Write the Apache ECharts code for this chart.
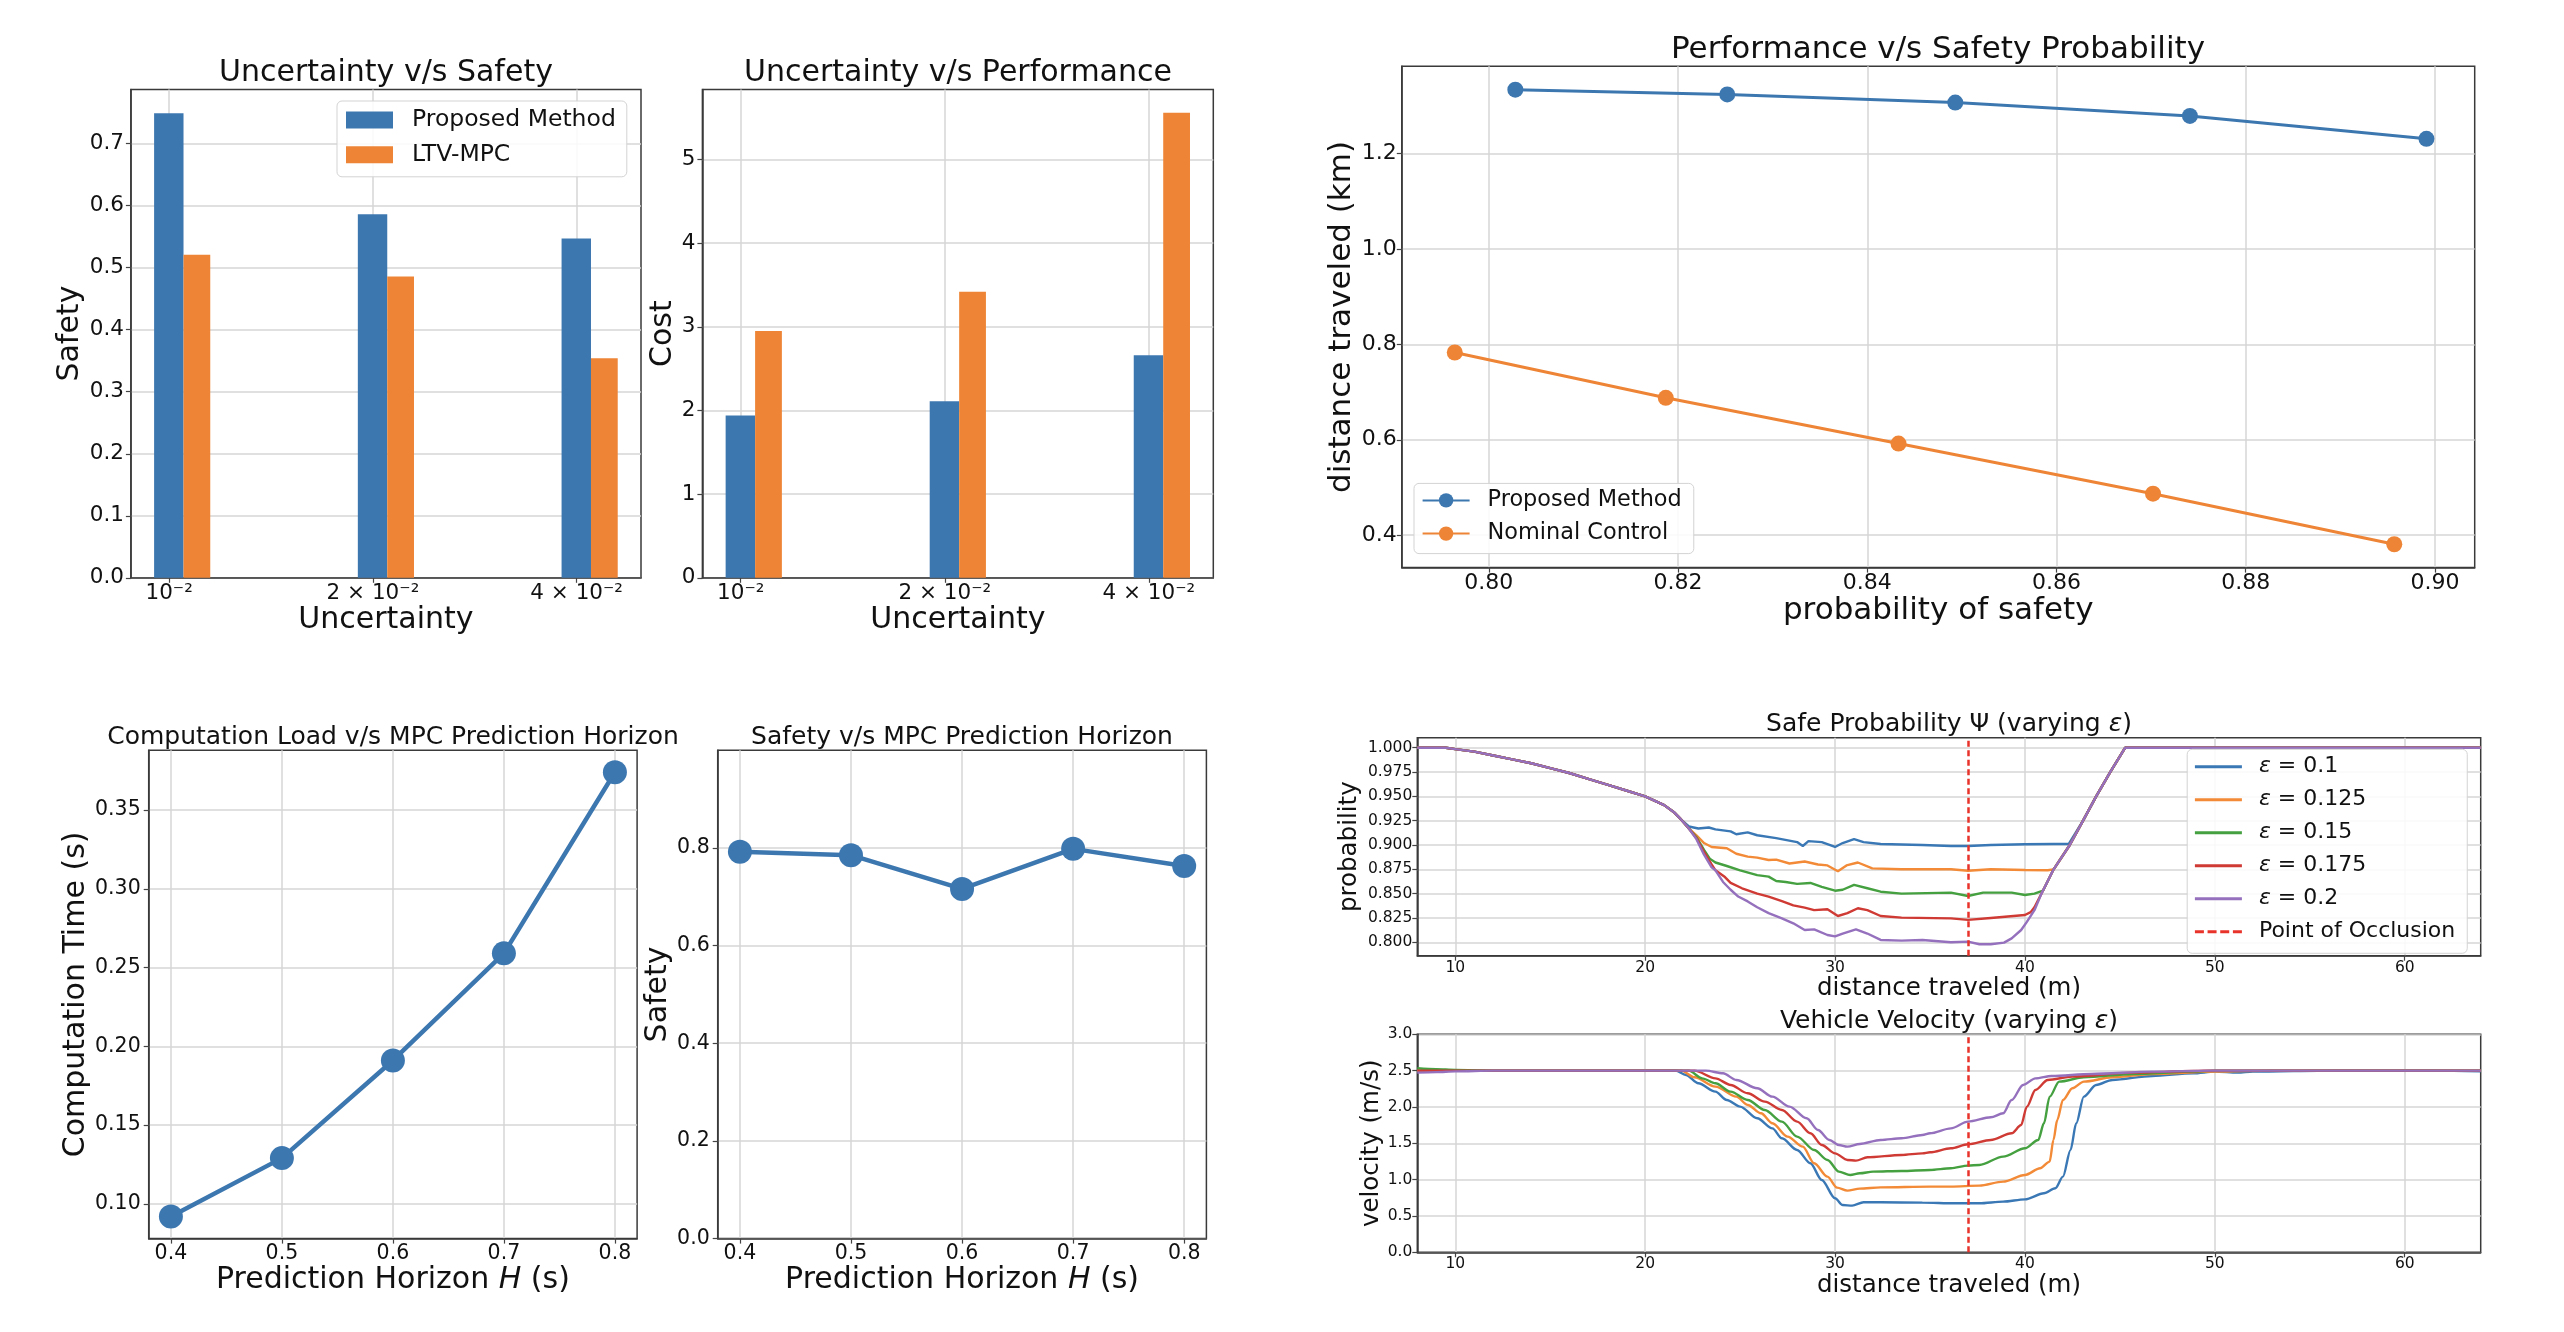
<!DOCTYPE html>
<html>
<head>
<meta charset="utf-8">
<script src="https://cdn.jsdelivr.net/npm/echarts@6/dist/echarts.min.js"></script>
<style>
html,body{margin:0;padding:0;background:#fff;}
#c{width:2564px;height:1332px;}
</style>
</head>
<body>
<div id="c"></div>
<script>
// ---------------- DATA ----------------
const uncertainty = [0.01, 0.02, 0.04];
const safetyProposed = [0.749, 0.586, 0.547];
const safetyLtv = [0.521, 0.486, 0.354];
const costProposed = [1.94, 2.11, 2.66];
const costLtv = [2.95, 3.42, 5.56];

const probSafetyProposed = [0.8028, 0.8252, 0.8493, 0.8741, 0.8991];
const distProposed = [1.334, 1.324, 1.307, 1.279, 1.231];
const probSafetyNominal = [0.7964, 0.8187, 0.8433, 0.8702, 0.8957];
const distNominal = [0.783, 0.688, 0.592, 0.487, 0.381];

const horizon = [0.4, 0.5, 0.6, 0.7, 0.8];
const computationTime = [0.092, 0.129, 0.191, 0.259, 0.374];
const safetyHorizon = [0.792, 0.785, 0.716, 0.798, 0.763];

const occlusionX = 37;
const epsNames = ['ε = 0.1', 'ε = 0.125', 'ε = 0.15', 'ε = 0.175', 'ε = 0.2'];

const probEps010 = [[8,1.0],[9.5,1.0],[10,0.9985],[11,0.996],[12,0.992],[13,0.988],[14,0.984],[15,0.979],[16,0.974],[17,0.968],[18,0.962],[19,0.956],[20,0.950],[21,0.941],[21.5,0.934],[21.9,0.926],[22.3,0.919],[22.8,0.917],[23.35,0.918],[23.7,0.916],[24.5,0.914],[24.8,0.911],[25.4,0.913],[25.9,0.910],[26.9,0.907],[28.0,0.903],[28.3,0.899],[28.6,0.904],[29.3,0.903],[30.0,0.898],[30.4,0.902],[31.0,0.906],[31.5,0.903],[32.4,0.901],[34.6,0.900],[36.1,0.899],[37,0.899],[38.2,0.900],[40,0.9007],[41.5,0.901],[42.3,0.901],[43.06,0.925],[43.75,0.950],[44.49,0.975],[45.28,1.0],[64,1.0]];
const probEps0125 = [[8,1.0],[9.5,1.0],[10,0.9985],[11,0.996],[12,0.992],[13,0.988],[14,0.984],[15,0.979],[16,0.974],[17,0.968],[18,0.962],[19,0.956],[20,0.950],[21,0.941],[21.5,0.934],[21.9,0.926],[22.3,0.917],[22.7,0.910],[23.1,0.902],[23.5,0.898],[24.3,0.8966],[24.8,0.891],[25.4,0.888],[25.9,0.887],[26.5,0.8846],[26.9,0.885],[27.6,0.881],[28.4,0.883],[29.1,0.880],[29.6,0.879],[30.15,0.873],[30.6,0.879],[31.2,0.882],[31.96,0.876],[33.5,0.875],[36.1,0.875],[37,0.8736],[38.2,0.875],[40,0.8743],[41.2,0.874],[41.51,0.875],[42.36,0.900],[43.06,0.925],[43.75,0.950],[44.49,0.975],[45.28,1.0],[64,1.0]];
const probEps015 = [[8,1.0],[9.5,1.0],[10,0.9985],[11,0.996],[12,0.992],[13,0.988],[14,0.984],[15,0.979],[16,0.974],[17,0.968],[18,0.962],[19,0.956],[20,0.950],[21,0.941],[21.5,0.934],[21.9,0.926],[22.3,0.917],[22.7,0.908],[23.1,0.895],[23.4,0.886],[23.7,0.882],[24.3,0.8784],[25.0,0.874],[25.9,0.869],[26.5,0.8675],[26.9,0.863],[27.4,0.862],[28.0,0.860],[28.7,0.861],[29.3,0.857],[30.0,0.853],[30.4,0.854],[31.0,0.859],[31.7,0.8555],[32.4,0.852],[33.5,0.850],[36.1,0.851],[37,0.8476],[37.8,0.851],[39.3,0.851],[40,0.8486],[40.5,0.850],[40.95,0.853],[41.51,0.875],[42.36,0.900],[43.06,0.925],[43.75,0.950],[44.49,0.975],[45.28,1.0],[64,1.0]];
const probEps0175 = [[8,1.0],[9.5,1.0],[10,0.9985],[11,0.996],[12,0.992],[13,0.988],[14,0.984],[15,0.979],[16,0.974],[17,0.968],[18,0.962],[19,0.956],[20,0.950],[21,0.941],[21.5,0.934],[21.9,0.926],[22.3,0.917],[22.7,0.907],[23.1,0.893],[23.5,0.880],[23.7,0.874],[24.2,0.867],[24.5,0.861],[25.1,0.8555],[25.9,0.850],[26.5,0.847],[27.2,0.8424],[27.8,0.838],[28.4,0.8356],[28.9,0.833],[29.6,0.834],[30.15,0.827],[30.65,0.830],[31.2,0.835],[31.7,0.833],[32.4,0.827],[33.5,0.8253],[36.1,0.8246],[37,0.823],[38.2,0.825],[40,0.828],[40.3,0.831],[40.5,0.836],[40.87,0.850],[41.51,0.875],[42.36,0.900],[43.06,0.925],[43.75,0.950],[44.49,0.975],[45.28,1.0],[64,1.0]];
const probEps02 = [[8,1.0],[9.5,1.0],[10,0.9985],[11,0.996],[12,0.992],[13,0.988],[14,0.984],[15,0.979],[16,0.974],[17,0.968],[18,0.962],[19,0.956],[20,0.950],[21,0.941],[21.5,0.934],[21.9,0.926],[22.3,0.917],[22.7,0.906],[23.1,0.890],[23.5,0.877],[23.7,0.874],[24.1,0.862],[24.5,0.854],[24.9,0.847],[25.4,0.842],[25.9,0.836],[26.5,0.830],[27.2,0.8246],[27.8,0.8195],[28.4,0.8126],[28.9,0.8133],[29.6,0.8075],[30.0,0.806],[30.4,0.809],[31.1,0.8133],[31.7,0.809],[32.4,0.8024],[33.5,0.8017],[34.6,0.8024],[36.1,0.800],[37,0.8007],[37.6,0.798],[38.2,0.798],[38.9,0.7996],[39.3,0.804],[39.8,0.8126],[40.1,0.821],[40.5,0.833],[40.87,0.850],[41.51,0.875],[42.36,0.900],[43.06,0.925],[43.75,0.950],[44.49,0.975],[45.28,1.0],[64,1.0]];

const velEps010 = [[8,2.5],[21.6,2.5],[22.15,2.44],[22.8,2.326],[23.7,2.211],[24.3,2.096],[25.0,2.005],[25.9,1.844],[26.7,1.706],[27.2,1.569],[28.0,1.408],[28.7,1.225],[29.3,0.995],[30.0,0.743],[30.4,0.651],[30.9,0.642],[31.5,0.688],[32.4,0.688],[34.6,0.683],[36.3,0.674],[37.6,0.674],[38.85,0.697],[40,0.729],[41,0.812],[41.6,0.881],[42.0,1.041],[42.4,1.408],[42.7,1.775],[43.1,2.142],[43.75,2.303],[44.6,2.372],[46.7,2.427],[48.85,2.463],[50,2.486],[51.2,2.472],[52,2.486],[56.3,2.5],[61.6,2.5],[64,2.49]];
const velEps0125 = [[8,2.5],[21.9,2.5],[22.6,2.408],[23.7,2.28],[24.8,2.142],[25.4,2.028],[26.1,1.913],[26.7,1.775],[27.5,1.592],[28.3,1.454],[28.9,1.225],[29.6,1.041],[30.1,0.89],[30.65,0.849],[31.3,0.876],[32.4,0.894],[35,0.904],[36.1,0.904],[37.6,0.917],[38.85,0.972],[40,1.064],[40.8,1.156],[41.3,1.248],[41.5,1.546],[41.7,1.821],[42.0,2.096],[42.5,2.257],[43.1,2.349],[44.6,2.408],[46.7,2.454],[50,2.486],[53,2.5],[64,2.5]];
const velEps015 = [[8,2.532],[9,2.52],[10,2.51],[12,2.5],[22.3,2.5],[23.0,2.394],[23.7,2.326],[24.5,2.211],[25.4,2.096],[26.3,1.959],[27.2,1.798],[28.0,1.592],[28.9,1.408],[29.6,1.271],[30.2,1.11],[30.8,1.064],[31.3,1.087],[32.0,1.11],[33.5,1.119],[35,1.133],[36.1,1.156],[37,1.193],[37.6,1.202],[38.85,1.317],[40,1.431],[40.7,1.546],[41,1.775],[41.3,2.142],[41.8,2.349],[43.1,2.408],[45.7,2.454],[48.9,2.486],[50,2.5],[64,2.5]];
const velEps0175 = [[8,2.5],[22.6,2.5],[23.7,2.394],[24.5,2.303],[25.4,2.188],[26.3,2.073],[27.2,1.959],[28.0,1.798],[28.7,1.638],[29.3,1.477],[30.0,1.362],[30.65,1.271],[31.1,1.261],[31.7,1.307],[33.5,1.339],[34.6,1.362],[35,1.376],[36.1,1.431],[37,1.486],[38.2,1.546],[39.3,1.638],[39.8,1.752],[40.1,2.005],[40.55,2.234],[41.2,2.372],[42.5,2.417],[45.7,2.472],[48.9,2.495],[50,2.5],[64,2.5]];
const velEps02 = [[8,2.472],[9,2.48],[10,2.49],[12,2.5],[23.2,2.5],[24.1,2.463],[24.8,2.372],[25.9,2.257],[26.7,2.142],[27.6,2.005],[28.5,1.844],[29.1,1.683],[29.7,1.546],[30.2,1.477],[30.65,1.454],[31.3,1.491],[32.4,1.546],[33.5,1.569],[34.6,1.615],[35,1.638],[36.1,1.706],[37,1.798],[38.2,1.858],[38.85,1.913],[39.3,2.096],[39.9,2.303],[40.55,2.394],[41.4,2.427],[43.5,2.454],[46.7,2.486],[49.8,2.5],[64,2.5]];

// tick values
const safetyTicks = [0, 0.1, 0.2, 0.3, 0.4, 0.5, 0.6, 0.7];
const costTicks = [0, 1, 2, 3, 4, 5];
const probSafetyTicks = [0.80, 0.82, 0.84, 0.86, 0.88, 0.90];
const distTicks = [0.4, 0.6, 0.8, 1.0, 1.2];
const horizonTicks = [0.4, 0.5, 0.6, 0.7, 0.8];
const compTicks = [0.10, 0.15, 0.20, 0.25, 0.30, 0.35];
const safetyHTicks = [0, 0.2, 0.4, 0.6, 0.8];
const travelTicks = [10, 20, 30, 40, 50, 60];
const probabilityTicks = [0.8, 0.825, 0.85, 0.875, 0.9, 0.925, 0.95, 0.975, 1.0];
const velocityTicks = [0, 0.5, 1.0, 1.5, 2.0, 2.5, 3.0];

// ---------------- STYLE ----------------
const FONT = 'DejaVu Sans';
const TXT = '#111';
const FRAME = '#3a3a3a';
const GRIDC = '#d6d6d6';
const BLUE = '#3d77b0', ORANGE = '#ee8536';
const LC = ['#3a78b5', '#f28a37', '#45a040', '#cf3a34', '#9470bd'];
const RED = '#e8332a';
const DASH_ICON = 'path://M0,0H9V1H0Z M12.67,0H21.67V1H12.67Z M25.33,0H34.33V1H25.33Z M38,0H47V1H38Z';

const zip = (a, b) => a.map((v, i) => [v, b[i]]);
const f0 = v => String(Math.round(v));
const f1 = v => v.toFixed(1);
const f2 = v => v.toFixed(2);
const f3 = v => v.toFixed(3);
const uncLabel = v => {
  const k = Math.round(v / 0.01);
  return k === 1 ? '10⁻²' : (k + ' × 10⁻²');
};

function mkAxis(gi, o) {
  const ax = {
    gridIndex: gi, type: o.type || 'value', min: o.min, max: o.max,
    axisLine: {show: true, onZero: false, lineStyle: {color: FRAME, width: 1.5}},
    axisTick: {show: true, length: 5, inside: false, lineStyle: {color: '#444', width: 1.2}, customValues: o.ticks},
    axisLabel: {customValues: o.ticks, formatter: o.fmt, color: TXT, fontFamily: FONT, fontSize: o.fs, margin: o.margin, hideOverlap: false},
    splitLine: {show: true, lineStyle: {color: GRIDC, width: 1.5}},
    name: o.name, nameLocation: 'middle', nameGap: o.gap,
    nameTextStyle: {fontFamily: FONT, fontSize: o.nfs, color: TXT, rich: o.rich}
  };
  if (o.type === 'log') ax.logBase = 10;
  return ax;
}

const grids = [
  {left: 130.9, top: 89.4, width: 510.1, height: 488.4},
  {left: 702.4, top: 89.4, width: 510.9, height: 488.4},
  {left: 1401.8, top: 66.3, width: 1072.9, height: 501.3},
  {left: 148.7, top: 750.2, width: 488.4, height: 488.4},
  {left: 717.7, top: 750.2, width: 488.7, height: 488.4},
  {left: 1417.3, top: 737.7, width: 1063.4, height: 218},
  {left: 1417.3, top: 1034.3, width: 1063.4, height: 218}
].map(g => Object.assign({show: true, borderColor: FRAME, borderWidth: 1.5, backgroundColor: '#fff', containLabel: false, outerBoundsMode: 'none'}, g));

const uncMin = 0.008779, uncMax = 0.04979;
const italicRich30 = {i: {fontStyle: 'italic', fontFamily: FONT, fontSize: 30, color: TXT}};

const xAxes = [
  mkAxis(0, {type: 'log', min: uncMin, max: uncMax, ticks: uncertainty, fmt: uncLabel, fs: 21.5, margin: 5, name: 'Uncertainty', gap: 27, nfs: 30}),
  mkAxis(1, {type: 'log', min: uncMin, max: uncMax, ticks: uncertainty, fmt: uncLabel, fs: 21.5, margin: 5, name: 'Uncertainty', gap: 27, nfs: 30}),
  mkAxis(2, {min: 0.7908, max: 0.9042, ticks: probSafetyTicks, fmt: f2, fs: 22, margin: 5, name: 'probability of safety', gap: 28, nfs: 31}),
  mkAxis(3, {min: 0.38, max: 0.82, ticks: horizonTicks, fmt: f1, fs: 20.5, margin: 5, name: 'Prediction Horizon {i|H} (s)', gap: 26, nfs: 30, rich: italicRich30}),
  mkAxis(4, {min: 0.38, max: 0.82, ticks: horizonTicks, fmt: f1, fs: 20.5, margin: 5, name: 'Prediction Horizon {i|H} (s)', gap: 26, nfs: 30, rich: italicRich30}),
  mkAxis(5, {min: 8, max: 64, ticks: travelTicks, fmt: f0, fs: 15.5, margin: 4, name: 'distance traveled (m)', gap: 18.5, nfs: 24.5}),
  mkAxis(6, {min: 8, max: 64, ticks: travelTicks, fmt: f0, fs: 15.5, margin: 4, name: 'distance traveled (m)', gap: 20, nfs: 24.5})
];
const yAxes = [
  mkAxis(0, {min: 0, max: 0.7875, ticks: safetyTicks, fmt: f1, fs: 21.5, margin: 7, name: 'Safety', gap: 46, nfs: 30}),
  mkAxis(1, {min: 0, max: 5.838, ticks: costTicks, fmt: f0, fs: 21.5, margin: 7, name: 'Cost', gap: 24, nfs: 30}),
  mkAxis(2, {min: 0.332, max: 1.383, ticks: distTicks, fmt: f1, fs: 22, margin: 5, name: 'distance traveled (km)', gap: 44, nfs: 31}),
  mkAxis(3, {min: 0.0779, max: 0.388, ticks: compTicks, fmt: f2, fs: 20.5, margin: 8, name: 'Computation Time (s)', gap: 57, nfs: 30}),
  mkAxis(4, {min: 0, max: 1.0, ticks: safetyHTicks, fmt: f1, fs: 20.5, margin: 8, name: 'Safety', gap: 44, nfs: 30}),
  mkAxis(5, {min: 0.7862, max: 1.0103, ticks: probabilityTicks, fmt: f3, fs: 15.5, margin: 5, name: 'probability', gap: 55, nfs: 24.5}),
  mkAxis(6, {min: 0, max: 3.0, ticks: velocityTicks, fmt: f1, fs: 15.5, margin: 5, name: 'velocity (m/s)', gap: 32, nfs: 24.5})
];

function barRenderer(lo, hi) {
  return function (params, api) {
    const u = api.value(0), v = api.value(1);
    const a = api.coord([u * lo, v]);
    const b = api.coord([u * hi, 0]);
    return {type: 'rect', shape: {x: a[0], y: a[1], width: b[0] - a[0], height: b[1] - a[1]}, style: {fill: api.visual('color')}};
  };
}
function barSeries(name, gi, values, color, lo, hi) {
  return {type: 'custom', name: name, xAxisIndex: gi, yAxisIndex: gi, data: zip(uncertainty, values),
    encode: {x: 0, y: 1}, itemStyle: {color: color}, renderItem: barRenderer(lo, hi)};
}
function markerLine(name, gi, data, color, size, width) {
  return {type: 'line', name: name, xAxisIndex: gi, yAxisIndex: gi, data: data, symbol: 'circle', symbolSize: size,
    itemStyle: {color: color}, lineStyle: {color: color, width: width}};
}
function thinLine(name, gi, data, color, smooth) {
  return {type: 'line', name: name, xAxisIndex: gi, yAxisIndex: gi, data: data, symbol: 'none', showSymbol: false,
    smooth: smooth ? 0.3 : false, smoothMonotone: 'x',
    itemStyle: {color: color}, lineStyle: {color: color, width: 2.4}};
}
function occlusionSeries(gi) {
  return {type: 'line', name: 'Point of Occlusion', xAxisIndex: gi, yAxisIndex: gi, data: [], symbol: 'none',
    itemStyle: {color: RED}, lineStyle: {color: RED, width: 2.5, type: [6, 3.5]},
    markLine: {silent: true, symbol: 'none', label: {show: false}, animation: false,
      lineStyle: {color: RED, width: 2.5, type: [6, 3.5]}, data: [{xAxis: occlusionX}]}};
}

const probSets = [probEps010, probEps0125, probEps015, probEps0175, probEps02];
const velSets = [velEps010, velEps0125, velEps015, velEps0175, velEps02];

const series = [
  barSeries('Proposed Method', 0, safetyProposed, BLUE, 0.95, 1.05),
  barSeries('LTV-MPC', 0, safetyLtv, ORANGE, 1.05, 1.15),
  barSeries('Proposed Method', 1, costProposed, BLUE, 0.95, 1.05),
  barSeries('LTV-MPC', 1, costLtv, ORANGE, 1.05, 1.15),
  markerLine('Proposed Method\u00a0', 2, zip(probSafetyProposed, distProposed), BLUE, 16, 3),
  markerLine('Nominal Control', 2, zip(probSafetyNominal, distNominal), ORANGE, 16, 3),
  markerLine('Computation Time', 3, zip(horizon, computationTime), BLUE, 24, 4.5),
  markerLine('Safety vs Horizon', 4, zip(horizon, safetyHorizon), BLUE, 24, 4.5)
];
probSets.forEach((d, i) => series.push(thinLine(epsNames[i], 5, d, LC[i], false)));
series.push(occlusionSeries(5));
velSets.forEach((d, i) => series.push(thinLine(epsNames[i], 6, d, LC[i], true)));
series.push(occlusionSeries(6));

function mkTitle(text, cx, cy, fs, rich) {
  return {text: text, left: cx, top: cy, textAlign: 'center', textVerticalAlign: 'middle', padding: 0,
    textStyle: {fontFamily: FONT, fontSize: fs, fontWeight: 'normal', color: TXT, lineHeight: fs, rich: rich}};
}
const titles = [
  mkTitle('Uncertainty v/s Safety', 386, 73, 30),
  mkTitle('Uncertainty v/s Performance', 958, 73, 30),
  mkTitle('Performance v/s Safety Probability', 1938, 50, 31),
  mkTitle('Computation Load v/s MPC Prediction Horizon', 393, 737.5, 25),
  mkTitle('Safety v/s MPC Prediction Horizon', 962, 737.5, 25),
  mkTitle('Safe Probability Ψ (varying {i|ε})', 1949, 724, 25, {i: {fontStyle: 'italic', fontFamily: FONT, fontSize: 25, color: TXT}}),
  mkTitle('Vehicle Velocity (varying {i|ε})', 1949, 1021, 25, {i: {fontStyle: 'italic', fontFamily: FONT, fontSize: 25, color: TXT}})
];

const legendBox = {backgroundColor: 'rgba(255,255,255,0.85)', borderColor: '#d3d3d3', borderWidth: 1, borderRadius: 5};
const legends = [
  Object.assign({
    data: [{name: 'Proposed Method', icon: 'rect'}, {name: 'LTV-MPC', icon: 'rect'}],
    left: 337, top: 101, orient: 'vertical', itemWidth: 47, itemHeight: 17, itemGap: 6.8,
    padding: [5, 11, 8, 9], selectedMode: false,
    textStyle: {fontFamily: FONT, fontSize: 23.5, lineHeight: 28, color: TXT, padding: [0, 0, 0, 14]}
  }, legendBox),
  Object.assign({
    data: ['Proposed Method\u00a0', 'Nominal Control'],
    formatter: n => n.trim(),
    left: 1414, top: 483.4, orient: 'vertical', itemWidth: 47, itemHeight: 18, itemGap: 7.2,
    padding: [4, 12, 7, 7.6], selectedMode: false,
    textStyle: {fontFamily: FONT, fontSize: 22.4, lineHeight: 26, color: TXT, padding: [0, 0, 0, 13]}
  }, legendBox),
  Object.assign({
    data: epsNames.map(n => ({name: n, icon: 'rect'})).concat([{name: 'Point of Occlusion', icon: DASH_ICON}]),
    formatter: n => n.charAt(0) === 'ε' ? '{i|ε}' + n.slice(1) : n,
    left: 2187.2, top: 749.3, orient: 'vertical', itemWidth: 47, itemHeight: 3, itemGap: 7,
    symbolKeepAspect: false,
    padding: [4.4, 12, 8.6, 7.7], selectedMode: false,
    textStyle: {fontFamily: FONT, fontSize: 22, lineHeight: 26, color: TXT, padding: [0, 0, 0, 12],
      rich: {i: {fontStyle: 'italic', fontFamily: FONT, fontSize: 22, lineHeight: 26, color: TXT}}}
  }, legendBox)
];

const chart = echarts.init(document.getElementById('c'), null, {renderer: 'canvas', width: 2564, height: 1332});
chart.setOption({
  animation: false,
  backgroundColor: '#fff',
  textStyle: {fontFamily: FONT},
  title: titles,
  legend: legends,
  grid: grids,
  xAxis: xAxes,
  yAxis: yAxes,
  series: series
});
</script>
</body>
</html>
